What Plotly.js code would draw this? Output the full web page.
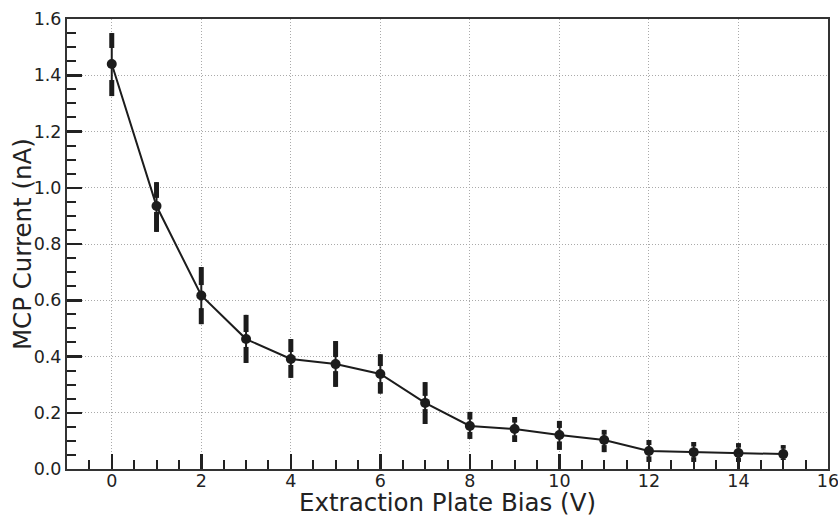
<!DOCTYPE html>
<html>
<head>
<meta charset="utf-8">
<script src="https://cdn.plot.ly/plotly-3.0.1.min.js"></script>
<style>html,body{margin:0;padding:0;background:#fff;}#chart{width:838px;height:515px;}</style>
</head>
<body>
<div id="chart"></div>
<script>
// Extraction plate bias (V)
const bias = [0, 1, 2, 3, 4, 5, 6, 7, 8, 9, 10, 11, 12, 13, 14, 15];
// MCP current (nA)
const current = [1.44, 0.935, 0.617, 0.462, 0.391, 0.373, 0.338, 0.235, 0.153, 0.142, 0.121, 0.103, 0.064, 0.060, 0.057, 0.053];
// Outer error limits
const currentHi = [1.55, 1.02, 0.718, 0.548, 0.462, 0.455, 0.408, 0.309, 0.203, 0.185, 0.171, 0.139, 0.103, 0.096, 0.092, 0.085];
const currentLo = [1.326, 0.843, 0.515, 0.377, 0.324, 0.292, 0.268, 0.160, 0.107, 0.096, 0.068, 0.060, 0.025, 0.025, 0.025, 0.032];
// Inner limits of the thick part of the error bars
const thickHiInner = [1.497, 0.964, 0.654, 0.487, 0.416, 0.398, 0.366, 0.260, 0.176, 0.165, 0.146, 0.122, 0.085, 0.080, 0.076, 0.072];
const thickLoInner = [1.383, 0.914, 0.572, 0.434, 0.370, 0.348, 0.309, 0.213, 0.132, 0.120, 0.098, 0.085, 0.045, 0.042, 0.040, 0.037];
// Axis titles
const xTitle = 'Extraction Plate Bias (V)';
const yTitle = 'MCP Current (nA)';

const errPlus = current.map((v, i) => currentHi[i] - v);
const errMinus = current.map((v, i) => v - currentLo[i]);
const thickTopLen = currentHi.map((v, i) => v - thickHiInner[i]);
const thickBotLen = currentLo.map((v, i) => thickLoInner[i] - v);
const zeros = bias.map(() => 0);

const ink = '#1c1c1c';

const traces = [
  {
    x: bias, y: currentHi, type: 'scatter', mode: 'markers',
    marker: {size: 1, opacity: 0},
    error_y: {type: 'data', symmetric: false, array: zeros, arrayminus: thickTopLen, width: 0, thickness: 5, color: ink},
    hoverinfo: 'skip', showlegend: false
  },
  {
    x: bias, y: currentLo, type: 'scatter', mode: 'markers',
    marker: {size: 1, opacity: 0},
    error_y: {type: 'data', symmetric: false, array: thickBotLen, arrayminus: zeros, width: 0, thickness: 5, color: ink},
    hoverinfo: 'skip', showlegend: false
  },
  {
    x: bias, y: current, type: 'scatter', mode: 'lines+markers',
    line: {color: ink, width: 2},
    marker: {color: ink, size: 10},
    error_y: {type: 'data', symmetric: false, array: errPlus, arrayminus: errMinus, width: 0, thickness: 2, color: ink},
    showlegend: false
  }
];

const tickFont = {family: 'DejaVu Sans', size: 17.5, color: '#222'};
const titleFont = {family: 'DejaVu Sans', size: 24.5, color: '#222'};

const layout = {
  width: 838, height: 515,
  margin: {l: 67, r: 10, t: 19, b: 46},
  paper_bgcolor: '#fff', plot_bgcolor: '#fff',
  showlegend: false,
  xaxis: {
    range: [-1, 16], dtick: 2, tick0: 0,
    ticks: 'inside', ticklen: 15, tickwidth: 2.5, tickcolor: '#222',
    minor: {dtick: 0.5, tick0: 0, ticks: 'inside', ticklen: 9, tickwidth: 2, tickcolor: '#222', showgrid: false},
    showgrid: true, gridcolor: '#aaa', griddash: '1px,2px', gridwidth: 1,
    zeroline: false,
    showline: true, linecolor: '#333', linewidth: 2, mirror: true,
    ticklabeloverflow: 'allow', ticklabelstandoff: -5,
    tickfont: tickFont
  },
  yaxis: {
    range: [0, 1.6], dtick: 0.2, tick0: 0, tickformat: '.1f',
    ticks: 'inside', ticklen: 15, tickwidth: 2.5, tickcolor: '#222',
    minor: {dtick: 0.05, tick0: 0, ticks: 'inside', ticklen: 9, tickwidth: 2, tickcolor: '#222', showgrid: false},
    showgrid: true, gridcolor: '#aaa', griddash: '1px,2px', gridwidth: 1,
    zeroline: false,
    showline: true, linecolor: '#333', linewidth: 2, mirror: true,
    ticklabeloverflow: 'allow',
    tickfont: tickFont
  },
  annotations: [
    {text: xTitle, font: titleFont, xref: 'paper', yref: 'paper', x: 0.5, y: -0.102, yshift: -4,
     xanchor: 'center', yanchor: 'bottom', showarrow: false},
    {text: yTitle, font: titleFont, xref: 'paper', yref: 'paper', x: -0.059, y: 0.5,
     xanchor: 'center', yanchor: 'middle', textangle: -90, showarrow: false}
  ]
};

Plotly.newPlot('chart', traces, layout, {displayModeBar: false, staticPlot: true});
</script>
</body>
</html>
